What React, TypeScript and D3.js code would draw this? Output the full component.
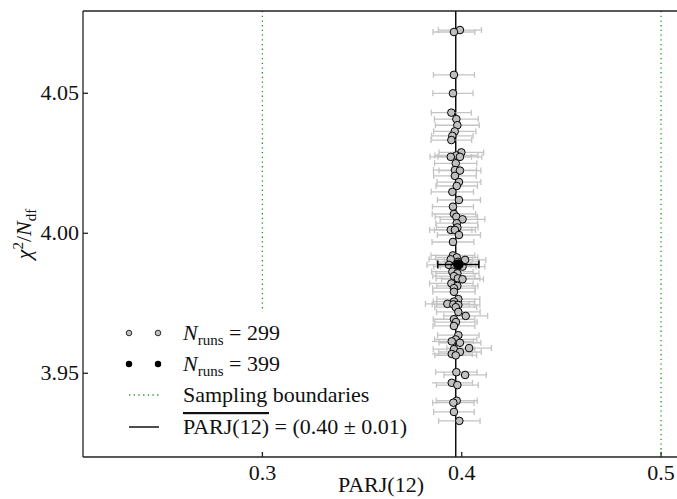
import * as d3 from "d3";
import React from "react";

// PARJ(12) fits for N_runs = 299 (grey)
const parj = [
  0.3991, 0.3961, 0.3961, 0.3956, 0.3948, 0.3973, 0.3978, 0.3965, 0.3953, 0.3948,
  0.3998, 0.3973, 0.3945, 0.3991, 0.3970, 0.3966, 0.3991, 0.3966, 0.3986, 0.3975,
  0.3953, 0.3986, 0.3956, 0.3961, 0.3973, 0.4004, 0.3975, 0.3978, 0.3945, 0.3966,
  0.3986, 0.3956, 0.3956, 0.3975, 0.3945, 0.4017, 0.3981, 0.3936, 0.3965, 0.4004,
  0.3953, 0.3978, 0.3961, 0.3981, 0.4004, 0.3948, 0.3978, 0.3961, 0.3961, 0.3983,
  0.3961, 0.3928, 0.3958, 0.3983, 0.3970, 0.3983, 0.4020, 0.3961, 0.3971, 0.3961,
  0.3983, 0.3970, 0.3950, 0.3991, 0.4037, 0.3961, 0.3991, 0.3950, 0.3970, 0.3973,
  0.4017, 0.3950, 0.3978, 0.3975, 0.3958, 0.3961, 0.3988,
];
const chi2 = [
  4.0726, 4.0719, 4.0566, 4.0500, 4.0431, 4.0408, 4.0386, 4.0364, 4.0348, 4.0333,
  4.0289, 4.0278, 4.0273, 4.0273, 4.0250, 4.0226, 4.0224, 4.0205, 4.0183, 4.0169,
  4.0148, 4.0119, 4.0095, 4.0069, 4.0059, 4.0050, 4.0036, 4.0021, 4.0012, 4.0012,
  3.9994, 3.9969, 3.9921, 3.9914, 3.9907, 3.9905, 3.9898, 3.9887, 3.9881, 3.9881,
  3.9863, 3.9857, 3.9847, 3.9839, 3.9836, 3.9821, 3.9812, 3.9804, 3.9791, 3.9765,
  3.9756, 3.9748, 3.9746, 3.9744, 3.9736, 3.9719, 3.9705, 3.9693, 3.9683, 3.9669,
  3.9636, 3.9621, 3.9614, 3.9609, 3.9590, 3.9586, 3.9576, 3.9569, 3.9564, 3.9504,
  3.9494, 3.9466, 3.9458, 3.9402, 3.9395, 3.9362, 3.9330,
];
const parjErr = [
  0.0108, 0.0105, 0.0103, 0.0101, 0.0100, 0.0110, 0.0110, 0.0106, 0.0104, 0.0102,
  0.0112, 0.0108, 0.0104, 0.0110, 0.0106, 0.0108, 0.0105, 0.0107, 0.0110, 0.0104,
  0.0106, 0.0108, 0.0103, 0.0109, 0.0106, 0.0112, 0.0105, 0.0104, 0.0106, 0.0103,
  0.0108, 0.0105, 0.0110, 0.0106, 0.0109, 0.0104, 0.0107, 0.0110, 0.0106, 0.0112,
  0.0104, 0.0108, 0.0106, 0.0110, 0.0105, 0.0109, 0.0103, 0.0107, 0.0106, 0.0108,
  0.0104, 0.0110, 0.0106, 0.0108, 0.0105, 0.0109, 0.0110, 0.0104, 0.0106, 0.0105,
  0.0104, 0.0106, 0.0109, 0.0105, 0.0112, 0.0104, 0.0107, 0.0103, 0.0105, 0.0104,
  0.0106, 0.0104, 0.0105, 0.0103, 0.0104, 0.0102, 0.0104,
];

// N_runs = 399 (black)
const bestParj = [0.3983];
const bestChi2 = [3.9889];
const bestErr = [0.0103];

const meanParj = 0.397;
const bounds = [0.3, 0.5];

const xTicks = [0.3, 0.4, 0.5];
const yTicks = [3.95, 4.0, 4.05];

const FONT = "Liberation Serif, DejaVu Serif, Times New Roman, serif";

export default function App() {
  const width = 677;
  const height = 499;
  const margin = { top: 11, right: -2, bottom: 42, left: 83 };
  const x = d3.scaleLinear().domain([0.21, 0.509]).range([margin.left, width - margin.right]);
  const y = d3.scaleLinear().domain([3.9201, 4.0794]).range([height - margin.bottom, margin.top]);
  const [x0, x1] = x.range();
  const [yb, yt] = y.range();

  const fmtY = d3.format(".2f");
  const fmtX = d3.format(".1f");

  const legendX = 129;
  const legendX2 = 158;
  const textX = 183;
  const rowY = [333, 364, 395, 427];

  return (
    <svg
      width={width}
      height={height}
      style={{ position: "absolute", left: 0, top: 0, background: "#fff", fontFamily: FONT }}
    >
      {/* sampling boundaries */}
      {bounds.map((b) => (
        <line key={b} x1={x(b)} x2={x(b)} y1={yt} y2={yb}
          stroke="#1f9a1f" strokeWidth={1.3} strokeDasharray="1.3,3.4" />
      ))}
      {/* mean */}
      <line x1={x(meanParj)} x2={x(meanParj)} y1={yt} y2={yb} stroke="#000" strokeWidth={1.4} />

      {/* grey error bars */}
      <g stroke="#c4c4c4" strokeWidth={1.3}>
        {parj.map((v, i) => {
          const cy = y(chi2[i]);
          const a = x(v - parjErr[i]);
          const b = x(v + parjErr[i]);
          return (
            <g key={i}>
              <line x1={a} x2={b} y1={cy} y2={cy} />
              <line x1={a} x2={a} y1={cy - 3} y2={cy + 3} />
              <line x1={b} x2={b} y1={cy - 3} y2={cy + 3} />
            </g>
          );
        })}
      </g>
      <g fill="#c0c0c0" stroke="#000" strokeWidth={1}>
        {parj.map((v, i) => (
          <circle key={i} cx={x(v)} cy={y(chi2[i])} r={3.8} />
        ))}
      </g>

      {/* best run */}
      <g stroke="#000" strokeWidth={1.5}>
        {bestParj.map((v, i) => {
          const cy = y(bestChi2[i]);
          const a = x(v - bestErr[i]);
          const b = x(v + bestErr[i]);
          return (
            <g key={i}>
              <line x1={a} x2={b} y1={cy} y2={cy} />
              <line x1={a} x2={a} y1={cy - 4} y2={cy + 4} />
              <line x1={b} x2={b} y1={cy - 4} y2={cy + 4} />
              <circle cx={x(v)} cy={cy} r={4.5} fill="#000" />
            </g>
          );
        })}
      </g>

      {/* legend */}
      <rect x={116} y={312} width={316} height={140} fill="#fff" />
      <g fontSize={22} fill="#111">
        <circle cx={legendX} cy={rowY[0]} r={2.8} fill="#c0c0c0" stroke="#000" strokeWidth={0.8} />
        <circle cx={legendX2} cy={rowY[0]} r={2.8} fill="#c0c0c0" stroke="#000" strokeWidth={0.8} />
        <text x={textX} y={rowY[0] + 7}>
          <tspan fontStyle="italic">N</tspan>
          <tspan fontSize={15} dy={5}>runs</tspan>
          <tspan dy={-5}> = 299</tspan>
        </text>
        <circle cx={legendX} cy={rowY[1]} r={3.2} fill="#000" />
        <circle cx={legendX2} cy={rowY[1]} r={3.2} fill="#000" />
        <text x={textX} y={rowY[1] + 7}>
          <tspan fontStyle="italic">N</tspan>
          <tspan fontSize={15} dy={5}>runs</tspan>
          <tspan dy={-5}> = 399</tspan>
        </text>
        <line x1={legendX} x2={legendX2 + 1} y1={rowY[2]} y2={rowY[2]}
          stroke="#1f9a1f" strokeWidth={1.3} strokeDasharray="1.3,3.4" />
        <text x={textX} y={rowY[2] + 7}>Sampling boundaries</text>
        <line x1={legendX} x2={legendX2 + 1} y1={rowY[3]} y2={rowY[3]} stroke="#000" strokeWidth={1.4} />
        <text x={textX} y={rowY[3] + 7}>
          <tspan style={{ textDecoration: "overline" }}>PARJ(12)</tspan>
          <tspan> = (0.40 ± 0.01)</tspan>
        </text>
      </g>

      {/* axes */}
      <g stroke="#222" strokeWidth={1.3} fill="none">
        <line x1={x0} x2={x0} y1={yt} y2={yb} />
        <line x1={x0} x2={x1} y1={yb} y2={yb} />
        <line x1={x0} x2={x1} y1={yt} y2={yt} />
        {xTicks.map((t) => (
          <line key={t} x1={x(t)} x2={x(t)} y1={yb} y2={yb - 5} />
        ))}
        {yTicks.map((t) => (
          <line key={t} x1={x0} x2={x0 + 5} y1={y(t)} y2={y(t)} />
        ))}
      </g>
      <g fontSize={22} fill="#111">
        {xTicks.map((t) => (
          <text key={t} x={x(t)} y={yb + 23} textAnchor="middle">{fmtX(t)}</text>
        ))}
        {yTicks.map((t) => (
          <text key={t} x={x0 - 4} y={y(t) + 7} textAnchor="end">{fmtY(t)}</text>
        ))}
        <text x={(x0 + x1) / 2} y={height - 7} textAnchor="middle">PARJ(12)</text>
        <text transform={`translate(31,${(yt + yb) / 2}) rotate(-90)`} textAnchor="middle">
          <tspan fontStyle="italic">χ</tspan>
          <tspan fontSize={15} dy={-8}>2</tspan>
          <tspan dy={8}>/</tspan>
          <tspan fontStyle="italic">N</tspan>
          <tspan fontSize={15} dy={5}>df</tspan>
        </text>
      </g>
    </svg>
  );
}
